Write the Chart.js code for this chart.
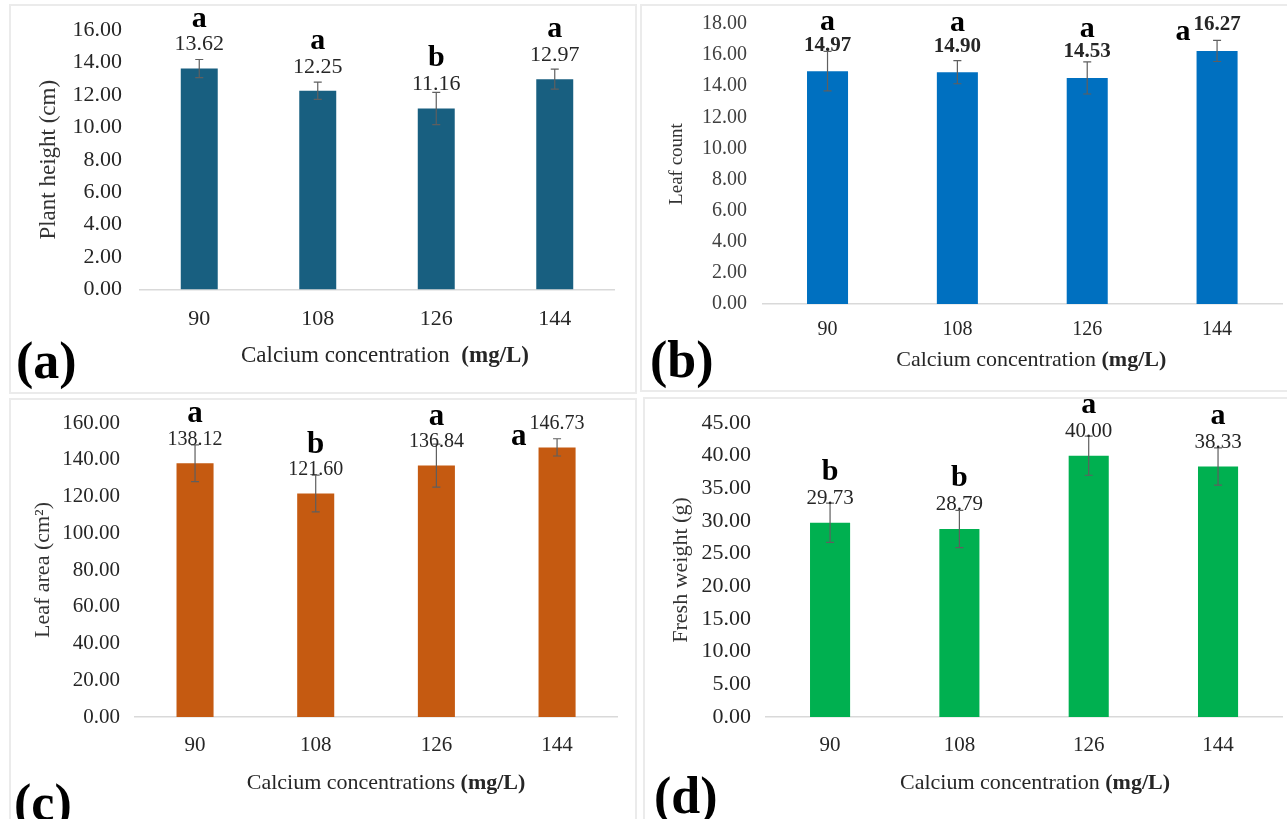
<!DOCTYPE html>
<html>
<head>
<meta charset="utf-8">
<script src="https://cdn.jsdelivr.net/npm/chart.js@4.4.1/dist/chart.umd.min.js"></script>
<style>
  body { margin: 0; background: #fff; width: 1287px; height: 819px; overflow: hidden; position: relative; }
  .box { position: absolute; border: 2px solid #ebebeb; box-sizing: border-box; }
  canvas { position: absolute; }
</style>
</head>
<body>
<div class="box" style="left:9px;top:4px;width:628px;height:390px"></div>
<div class="box" style="left:640px;top:4px;width:660px;height:388px"></div>
<div class="box" style="left:9px;top:398px;width:628px;height:440px"></div>
<div class="box" style="left:643px;top:397px;width:660px;height:440px"></div>

<canvas id="panelA" width="626" height="387" style="left:10px;top:6px"></canvas>
<canvas id="panelB" width="645" height="385" style="left:642px;top:6px"></canvas>
<canvas id="panelC" width="626" height="419" style="left:10px;top:400px"></canvas>
<canvas id="panelD" width="642" height="420" style="left:645px;top:399px"></canvas>

<script>
const categories = ["90", "108", "126", "144"];

// (a) plant height
const heightMean = [13.62, 12.25, 11.16, 12.97];
const heightErr = [0.56, 0.53, 1.0, 0.62];
const heightLetters = ["a", "a", "b", "a"];

// (b) leaf count
const leafCountMean = [14.97, 14.90, 14.53, 16.27];
const leafCountErr = [1.27, 0.74, 1.03, 0.68];
const leafCountLetters = ["a", "a", "a", "a"];

// (c) leaf area
const leafAreaMean = [138.12, 121.60, 136.84, 146.73];
const leafAreaErr = [10.0, 10.0, 11.7, 4.7];
const leafAreaLetters = ["a", "b", "a", "a"];

// (d) fresh weight
const freshMean = [29.73, 28.79, 40.00, 38.33];
const freshErr = [3.0, 2.85, 3.0, 2.85];
const freshLetters = ["b", "b", "a", "a"];

// y axis ranges
const heightAxis = { max: 16, step: 2 };
const leafCountAxis = { max: 18, step: 2 };
const leafAreaAxis = { max: 160, step: 20 };
const freshAxis = { max: 45, step: 5 };

const SERIF = "'Liberation Serif', 'Times New Roman', serif";

function makePanel(cfg) {
    const decor = {
        id: "decor",
        afterDatasetsDraw(chart) {
            const ctx = chart.ctx;
            const y = chart.scales.y;
            const bars = chart.getDatasetMeta(0).data;
            ctx.save();
            bars.forEach((bar, i) => {
                const v = cfg.values[i];
                const e = cfg.errors[i];
                const yHi = y.getPixelForValue(v + e);
                const yLo = y.getPixelForValue(v - e);

                // error bar
                ctx.strokeStyle = "#5f5f5f";
                ctx.lineWidth = 1.2;
                ctx.beginPath();
                ctx.moveTo(bar.x, yHi); ctx.lineTo(bar.x, yLo);
                ctx.moveTo(bar.x - 4, yHi); ctx.lineTo(bar.x + 4, yHi);
                ctx.moveTo(bar.x - 4, yLo); ctx.lineTo(bar.x + 4, yLo);
                ctx.stroke();

                // value label
                const labelY = bar.y - cfg.labelGap;
                const txt = v.toFixed(2);
                ctx.font = cfg.labelFont;
                ctx.fillStyle = "#262626";
                ctx.textAlign = "center";
                ctx.textBaseline = "middle";
                ctx.fillText(txt, bar.x, labelY);
                const labelW = ctx.measureText(txt).width;

                // significance letter
                ctx.font = "bold " + cfg.letterSize + "px " + SERIF;
                ctx.fillStyle = "#000";
                ctx.textBaseline = "alphabetic";
                if (cfg.letterLeft && cfg.letterLeft[i]) {
                    ctx.textAlign = "right";
                    ctx.fillText(cfg.letters[i], bar.x - labelW / 2 - 3, labelY + cfg.leftDrop);
                } else {
                    ctx.textAlign = "center";
                    ctx.fillText(cfg.letters[i], bar.x, bar.y - cfg.letterGap);
                }
            });
            ctx.restore();
        },
        afterDraw(chart) {
            const ctx = chart.ctx;
            const area = chart.chartArea;
            ctx.save();
            // x axis title, unit in bold
            ctx.textBaseline = "middle";
            ctx.textAlign = "left";
            ctx.fillStyle = "#262626";
            const normal = cfg.xTitle;
            const bold = "(mg/L)";
            ctx.font = cfg.xTitleSize + "px " + SERIF;
            const w1 = ctx.measureText(normal).width;
            ctx.font = "bold " + cfg.xTitleSize + "px " + SERIF;
            const w2 = ctx.measureText(bold).width;
            const cx = (area.left + area.right) / 2 + cfg.xTitleDx;
            const ty = area.bottom + cfg.xTitleDy;
            const sx = cx - (w1 + w2) / 2;
            ctx.font = cfg.xTitleSize + "px " + SERIF;
            ctx.fillText(normal, sx, ty);
            ctx.font = "bold " + cfg.xTitleSize + "px " + SERIF;
            ctx.fillText(bold, sx + w1, ty);

            // panel tag
            ctx.font = "bold 52px " + SERIF;
            ctx.fillStyle = "#000";
            ctx.fillText(cfg.tag, cfg.tagX, area.bottom + cfg.tagDy);
            ctx.restore();
        }
    };

    return new Chart(document.getElementById(cfg.id), {
        type: "bar",
        data: {
            labels: categories,
            datasets: [{
                data: cfg.values,
                backgroundColor: cfg.color,
                borderWidth: 0,
                categoryPercentage: 1,
                barPercentage: cfg.barPct
            }]
        },
        options: {
            responsive: false,
            animation: false,
            layout: {
                autoPadding: false,
                padding: { top: cfg.padTop, left: 0, right: cfg.padRight, bottom: cfg.padBottom }
            },
            plugins: { legend: { display: false }, tooltip: { enabled: false } },
            scales: {
                x: {
                    grid: { display: false, drawTicks: false },
                    border: { display: true, color: "#d9d9d9", width: 1.5 },
                    ticks: { color: "#262626", padding: cfg.xTickPad, font: { family: SERIF, size: cfg.xTickSize } },
                    afterFit: s => { s.height = 40; s.paddingLeft = 0; s.paddingRight = 0; }
                },
                y: {
                    min: 0,
                    max: cfg.axis.max,
                    grid: { display: false, drawTicks: false },
                    border: { display: false },
                    ticks: {
                        stepSize: cfg.axis.step,
                        color: cfg.yTickColor,
                        padding: cfg.yTickPad,
                        font: { family: SERIF, size: cfg.yTickSize },
                        callback: v => v.toFixed(2)
                    },
                    title: {
                        display: true,
                        text: cfg.yTitle,
                        color: "#333",
                        font: { family: SERIF, size: cfg.yTitleSize },
                        padding: { top: cfg.yTitlePad, bottom: 0 }
                    },
                    // keep the plot box where the reference has it
                    afterFit: s => { s.width = cfg.yWidth; s.paddingTop = 0; s.paddingBottom = 0; }
                }
            }
        },
        plugins: [decor]
    });
}

makePanel({
    id: "panelA", values: heightMean, errors: heightErr, letters: heightLetters,
    axis: heightAxis, color: "#185f80", barPct: 0.312,
    padTop: 24, padRight: 22, padBottom: 63.5, yWidth: 130,
    yTickPad: 18, yTickSize: 22, yTickColor: "#262626", xTickPad: 17, xTickSize: 22,
    yTitle: "Plant height (cm)", yTitleSize: 23, yTitlePad: 25,
    xTitle: "Calcium concentration  ", xTitleSize: 23, xTitleDx: 8, xTitleDy: 66.5,
    labelFont: "22px " + SERIF, labelGap: 24, letterSize: 30, letterGap: 42,
    tag: "(a)", tagX: 6, tagDy: 75
});

makePanel({
    id: "panelB", values: leafCountMean, errors: leafCountErr, letters: leafCountLetters,
    axis: leafCountAxis, color: "#0070c0", barPct: 0.316,
    padTop: 18, padRight: 5, padBottom: 47, yWidth: 120.6,
    yTickPad: 15.6, yTickSize: 20, yTickColor: "#404040", xTickPad: 14, xTickSize: 20,
    yTitle: "Leaf count", yTitleSize: 19, yTitlePad: 23.5,
    xTitle: "Calcium concentration ", xTitleSize: 22, xTitleDx: 9, xTitleDy: 56,
    labelFont: "bold 21px " + SERIF, labelGap: 26, letterSize: 30, letterGap: 41,
    letterLeft: [false, false, false, true], leftDrop: 15,
    tag: "(b)", tagX: 8, tagDy: 60
});

makePanel({
    id: "panelC", values: leafAreaMean, errors: leafAreaErr, letters: leafAreaLetters,
    axis: leafAreaAxis, color: "#c55a11", barPct: 0.307,
    padTop: 23, padRight: 18.6, padBottom: 62, yWidth: 124.7,
    yTickPad: 14.7, yTickSize: 21, yTickColor: "#262626", xTickPad: 16, xTickSize: 21,
    yTitle: "Leaf area (cm²)", yTitleSize: 22, yTitlePad: 20,
    xTitle: "Calcium concentrations ", xTitleSize: 22, xTitleDx: 10, xTitleDy: 66,
    labelFont: "20px " + SERIF, labelGap: 23.5, letterSize: 31, letterGap: 41,
    letterLeft: [false, false, false, true], leftDrop: 21,
    tag: "(c)", tagX: 4, tagDy: 90
});

makePanel({
    id: "panelD", values: freshMean, errors: freshErr, letters: freshLetters,
    axis: freshAxis, color: "#00b050", barPct: 0.31,
    padTop: 24, padRight: 4.3, padBottom: 62, yWidth: 120.4,
    yTickPad: 14.4, yTickSize: 22, yTickColor: "#262626", xTickPad: 16, xTickSize: 21,
    yTitle: "Fresh weight (g)", yTitleSize: 22, yTitlePad: 23,
    xTitle: "Calcium concentration ", xTitleSize: 22, xTitleDx: 11, xTitleDy: 66,
    labelFont: "21px " + SERIF, labelGap: 24.5, letterSize: 30, letterGap: 43,
    tag: "(d)", tagX: 9, tagDy: 83
});
</script>
</body>
</html>
